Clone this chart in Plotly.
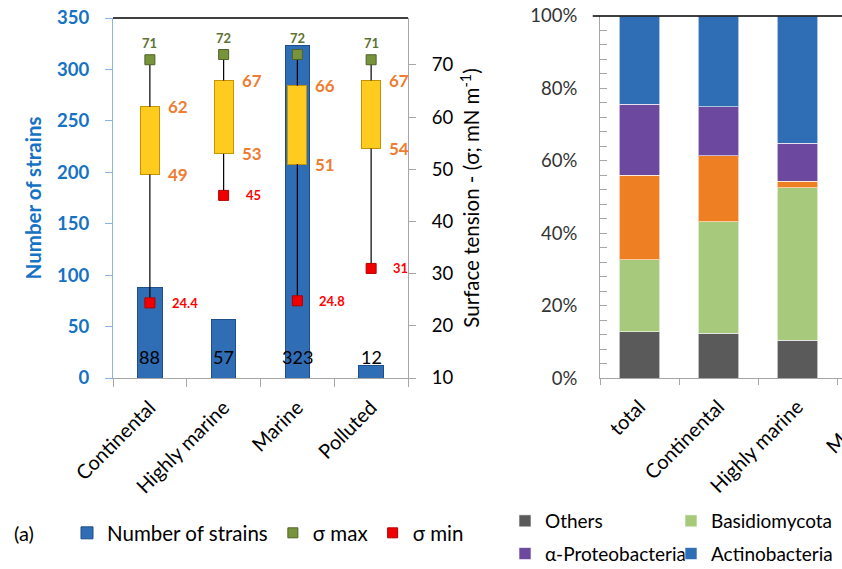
import plotly.graph_objects as go

# ---- Panel (a): strain counts and surface tension per air-mass type ----
air_masses = ["Continental", "Highly marine", "Marine", "Polluted"]
n_strains = [88, 57, 323, 12]
sigma_max = [71, 72, 72, 71]
sigma_q3 = [62, 67, 66, 67]
sigma_q1 = [49, 53, 51, 54]
sigma_min = [24.4, 45, 24.8, 31]

# ---- Panel (b): taxonomic composition (% of strains) ----
groups = ["total", "Continental", "Highly marine", "Marine"]
shown_groups = groups[:3]
pct_others = [12.9, 12.5, 10.5]
pct_basidio = [19.8, 30.7, 42.1]
pct_gamma = [23.4, 18.2, 1.8]
pct_alpha = [19.5, 13.6, 10.5]
pct_actino = [24.4, 25.0, 35.1]

FONT = "Lato"
BLUE_TXT = "#1572c4"
ORANGE = "#ed7d31"
OLIVE = "#5b7333"
RED = "#ff0000"
GRID_GREY = "#a6a6a6"

W, H = 842, 569

fig = go.Figure()

# strain count bars (left axis)
fig.add_trace(go.Bar(
    x=air_masses, y=n_strains, name="Number of strains",
    xaxis="x", yaxis="y", width=0.33,
    marker=dict(color="#2f6db5", line=dict(color="#1f4f8a", width=1)),
    legend="legend",
))

# whiskers: min -> lower quartile and upper quartile -> max
wx, wy = [], []
for c, lo, q1, q3, hi in zip(air_masses, sigma_min, sigma_q1, sigma_q3, sigma_max):
    wx += [c, c, None, c, c, None]
    wy += [lo, q1, None, q3, hi, None]
fig.add_trace(go.Scatter(
    x=wx, y=wy, mode="lines", xaxis="x", yaxis="y2",
    line=dict(color="black", width=1.2), showlegend=False, hoverinfo="skip",
))

# interquartile boxes
fig.add_trace(go.Bar(
    x=air_masses, y=[b - a for a, b in zip(sigma_q1, sigma_q3)], base=sigma_q1,
    xaxis="x", yaxis="y2", width=0.26, showlegend=False,
    marker=dict(color="#ffcb1f", line=dict(color="#c59300", width=1)),
))

fig.add_trace(go.Scatter(
    x=air_masses, y=sigma_max, mode="markers", name="σ max",
    xaxis="x", yaxis="y2", legend="legend",
    marker=dict(symbol="square", size=10, color="#77933c",
                line=dict(color="#4f6228", width=1)),
))
fig.add_trace(go.Scatter(
    x=air_masses, y=sigma_min, mode="markers", name="σ min",
    xaxis="x", yaxis="y2", legend="legend",
    marker=dict(symbol="square", size=10, color="#f00000",
                line=dict(color="#b00000", width=1)),
))

# ---- stacked composition bars ----
stack = [
    ("Others", pct_others, "#5a5a5a", "legend2", True),
    ("Basidiomycota", pct_basidio, "#a7c97b", "legend3", True),
    ("γ-Proteobacteria", pct_gamma, "#ee7f22", "legend2", False),
    ("α-Proteobacteria", pct_alpha, "#6c489f", "legend2", True),
    ("Actinobacteria", pct_actino, "#2f6db5", "legend3", True),
]
for name, vals, col, leg, show in stack:
    fig.add_trace(go.Bar(
        x=shown_groups, y=vals, name=name, xaxis="x3", yaxis="y3",
        width=0.51, showlegend=show, legend=leg, legendgroup=name,
        marker=dict(color=col, line=dict(color="rgba(255,255,255,0.6)", width=1)),
    ))

# ---- text labels ----
ann = []
for c, n in zip(air_masses, n_strains):
    ann.append(dict(x=c, y=0, xref="x", yref="y", text=str(n), showarrow=False,
                    yanchor="bottom", yshift=8, font=dict(size=18, color="black")))
for c, v in zip(air_masses, sigma_max):
    ann.append(dict(x=c, y=v, xref="x", yref="y2", text=f"<b>{v}</b>", showarrow=False,
                    yanchor="bottom", yshift=7, font=dict(size=13, color=OLIVE)))
for c, v in zip(air_masses, sigma_min):
    ann.append(dict(x=c, y=v, xref="x", yref="y2", text=f"<b>{v}</b>", showarrow=False,
                    xanchor="left", xshift=20, font=dict(size=13, color=RED)))
for c, a, b in zip(air_masses, sigma_q1, sigma_q3):
    for v in (a, b):
        ann.append(dict(x=c, y=v, xref="x", yref="y2", text=f"<b>{v}</b>", showarrow=False,
                        xanchor="left", xshift=16, font=dict(size=17, color=ORANGE)))

# panel label
ann.append(dict(x=12 / W, y=1 - 533 / H, xref="paper", yref="paper", text="(a)",
                showarrow=False, xanchor="left", yanchor="middle",
                font=dict(size=20, color="black")))

# category label running past the right edge of panel (b)
x3_dom = [600 / W, 1.0]
x3_rng = [-0.5, -0.5 + 242 / 79]
idx = groups.index("Marine")
x_marine = x3_dom[0] + (idx - x3_rng[0]) / (x3_rng[1] - x3_rng[0]) * (x3_dom[1] - x3_dom[0])
ann.append(dict(x=x_marine, y=1 - 394 / H, xref="paper", yref="paper", text="Marine",
                showarrow=False, textangle=-45, xanchor="right", yanchor="top",
                xshift=8, font=dict(size=20, color="black")))

# top frame lines
shapes = [
    dict(type="line", xref="x domain", yref="y domain", x0=0, x1=1, y0=1, y1=1,
         line=dict(color="black", width=1.3)),
    dict(type="line", xref="x3 domain", yref="y3 domain", x0=-0.03, x1=1, y0=1, y1=1,
         line=dict(color="black", width=1.3)),
]

fig.update_layout(
    width=W, height=H, margin=dict(l=0, r=0, t=0, b=0, autoexpand=False),
    paper_bgcolor="white", plot_bgcolor="rgba(0,0,0,0)",
    font=dict(family=FONT, color="black"),
    barmode="stack", bargap=0.3,
    annotations=ann, shapes=shapes,
    xaxis=dict(
        domain=[113 / W, 408 / W], anchor="y", type="category",
        categoryarray=air_masses, range=[-0.5, 3.5], automargin=False,
        tickson="boundaries", ticks="outside", ticklen=8, tickcolor=GRID_GREY,
        showline=True, linecolor=GRID_GREY, linewidth=1, showgrid=False,
        tickangle=-45, tickfont=dict(size=20, color="black"), ticklabelstandoff=9,
    ),
    yaxis=dict(
        domain=[1 - 378 / H, 1 - 18 / H], anchor="x", range=[0, 350], dtick=50,
        automargin=False,
        ticks="outside", ticklen=7, tickcolor="#8db3e2", showline=True,
        linecolor="#8db3e2", showgrid=False, zeroline=False,
        tickfont=dict(size=18.5, color=BLUE_TXT, weight="bold"), ticklabelstandoff=12,
        title=dict(text="Number of strains", standoff=9,
                   font=dict(size=20.5, color=BLUE_TXT, weight="bold")),
    ),
    yaxis2=dict(
        overlaying="y", side="right", anchor="x", range=[10, 79], automargin=False,
        tickvals=[10, 20, 30, 40, 50, 60, 70],
        ticks="outside", ticklen=7, tickcolor=GRID_GREY, showline=True,
        linecolor=GRID_GREY, showgrid=False, zeroline=False,
        tickfont=dict(size=18.5, color="black"), ticklabelstandoff=12,
        title=dict(text="Surface tension - (σ; mN m<sup>-1</sup>)", standoff=12,
                   font=dict(size=20.5, color="black")),
    ),
    xaxis3=dict(
        domain=x3_dom, anchor="y3", type="category", categoryarray=groups,
        range=x3_rng, automargin=False, tickson="boundaries", ticks="outside", ticklen=6,
        tickcolor=GRID_GREY, showline=True, linecolor=GRID_GREY, showgrid=False,
        tickangle=-45, tickfont=dict(size=20, color="black"), ticklabelstandoff=8,
    ),
    yaxis3=dict(
        domain=[1 - 378.3 / H, 1 - 16 / H], anchor="x3", range=[0, 100], dtick=20,
        automargin=False,
        ticksuffix="%", ticks="inside", ticklen=7, tickcolor=GRID_GREY,
        minor=dict(dtick=4, ticks="inside", ticklen=7, tickcolor=GRID_GREY),
        showline=True, linecolor=GRID_GREY, showgrid=False, zeroline=False,
        tickfont=dict(size=18.5, color="#333333"), ticklabelstandoff=18,
    ),
    legend=dict(orientation="h", x=67 / W, y=1 - 533 / H, xanchor="left",
                yanchor="middle", font=dict(size=20.5), bgcolor="rgba(0,0,0,0)",
                traceorder="normal"),
    legend2=dict(orientation="v", x=505 / W, y=1 - 502 / H, xanchor="left",
                 yanchor="top", font=dict(size=19), tracegroupgap=5,
                 bgcolor="rgba(0,0,0,0)", traceorder="grouped"),
    legend3=dict(orientation="v", x=671 / W, y=1 - 502 / H, xanchor="left",
                 yanchor="top", font=dict(size=19), tracegroupgap=5,
                 bgcolor="rgba(0,0,0,0)", traceorder="grouped"),
)

fig.write_html("out.html")
